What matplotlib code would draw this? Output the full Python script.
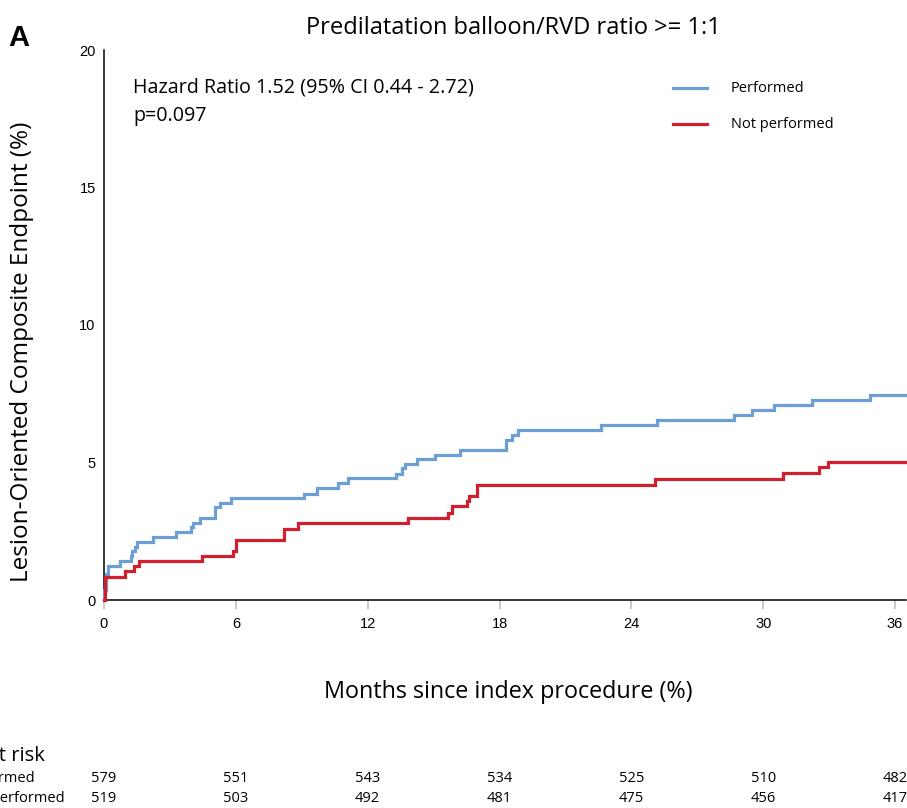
import matplotlib
matplotlib.use("Agg")
import matplotlib.pyplot as plt

# Kaplan-Meier cumulative incidence (%) of the lesion-oriented composite endpoint
months_performed = [0, 0.02, 0.08, 0.19, 0.73, 1.22, 1.28, 1.40, 1.52, 2.23,
                    3.29, 3.97, 4.05, 4.39, 5.03, 5.26, 5.79, 9.08, 9.69, 10.63,
                    11.10, 13.27, 13.57, 13.69, 14.25, 15.05, 16.19, 18.29, 18.56, 18.83,
                    22.61, 25.15, 28.69, 29.49, 30.50, 32.21, 34.88]
events_performed = [0, 0.35, 0.94, 1.25, 1.42, 1.60, 1.78, 1.94, 2.12, 2.30,
                    2.46, 2.64, 2.81, 3.00, 3.38, 3.54, 3.72, 3.87, 4.06, 4.24,
                    4.42, 4.60, 4.80, 4.94, 5.12, 5.29, 5.47, 5.81, 6.00, 6.18,
                    6.35, 6.54, 6.72, 6.90, 7.10, 7.27, 7.46]

months_not_performed = [0, 0.03, 0.95, 1.37, 1.60, 4.47, 5.86, 6.01, 8.21, 8.82,
                        13.84, 15.65, 15.84, 16.52, 16.62, 16.97, 25.09, 30.88, 32.52, 32.93]
events_not_performed = [0, 0.85, 1.04, 1.22, 1.43, 1.61, 1.79, 2.19, 2.60, 2.79,
                        3.00, 3.18, 3.41, 3.60, 3.80, 4.20, 4.40, 4.62, 4.82, 5.03]

follow_up_end = 36.5

# Numbers at risk
risk_months = [0, 6, 12, 18, 24, 30, 36]
risk_performed = [579, 551, 543, 534, 525, 510, 482]
risk_not_performed = [519, 503, 492, 481, 475, 456, 417]

group_labels = ["Performed", "Not performed"]
x_ticks = [0, 6, 12, 18, 24, 30, 36]
y_ticks = [0, 5, 10, 15, 20]

BLUE = "#6b9fd5"
RED = "#d0202e"

W, H = 907, 808
fig = plt.figure(figsize=(W / 100, H / 100), dpi=100)


def fx(x):
    return x / W


def fy(y):
    return 1 - y / H


ax = fig.add_axes([fx(104), fy(600), fx(906) - fx(104), fy(50) - fy(600)])

for t, v, c in [(months_performed, events_performed, BLUE),
                (months_not_performed, events_not_performed, RED)]:
    ax.step(list(t) + [follow_up_end], list(v) + [v[-1]], where="post",
            color=c, lw=2.3, solid_joinstyle="miter", clip_on=False, zorder=3)

ax.set_xlim(0, follow_up_end)
ax.set_ylim(0, 20)
ax.set_xticks(x_ticks)
ax.set_yticks(y_ticks)
ax.set_xticklabels([str(v) for v in x_ticks], fontfamily="Liberation Sans", fontsize=10.5)
ax.set_yticklabels([str(v) for v in y_ticks], fontfamily="Liberation Sans", fontsize=10.5)
ax.tick_params(axis="x", direction="out", length=6.5, width=1.3, color="#c4c4c4", pad=6)
ax.tick_params(axis="y", length=0, pad=6)
for s in ["top", "right"]:
    ax.spines[s].set_visible(False)
for s in ["left", "bottom"]:
    ax.spines[s].set_linewidth(1.1)
    ax.spines[s].set_color("black")

font = ["Open Sans", "DejaVu Sans"]

fig.text(fx(513), fy(28), "Predilatation balloon/RVD ratio >= 1:1", family=font,
         fontsize=17, ha="center", va="center")
fig.text(fx(8), fy(38), "A", family="Liberation Sans", fontweight="bold",
         fontsize=21, ha="left", va="center")
fig.text(fx(133), fy(88), "Hazard Ratio 1.52 (95% CI 0.44 - 2.72)", family=font,
         fontsize=14.2, ha="left", va="center")
fig.text(fx(133), fy(116), "p=0.097", family=font, fontsize=14.2, ha="left", va="center")

# Legend
for yy, c, lab in [(88, BLUE, group_labels[0]), (124, RED, group_labels[1])]:
    fig.add_artist(plt.Line2D([fx(673), fx(707)], [fy(yy), fy(yy)], color=c, lw=2.3))
    fig.text(fx(731), fy(yy), lab, family=font, fontsize=10.5, ha="left", va="center")

fig.text(fx(508), fy(692), "Months since index procedure (%)", family=font,
         fontsize=16.8, ha="center", va="center")
fig.text(fx(22), fy(352), "Lesion-Oriented Composite Endpoint (%)", family=font,
         fontsize=17.5, ha="center", va="center", rotation=90)

# Numbers-at-risk table below the plot
fig.text(fx(-14), fy(756), "At risk", family=font, fontsize=14.5, ha="left", va="center")
fig.text(fx(-38), fy(778), group_labels[0], family=font, fontsize=10.5, ha="left", va="center")
fig.text(fx(-38), fy(798), group_labels[1], family=font, fontsize=10.5, ha="left", va="center")
for m, a, b in zip(risk_months, risk_performed, risk_not_performed):
    xd = ax.transData.transform((m, 0))[0]
    xf = fig.transFigure.inverted().transform((xd, 0))[0]
    fig.text(xf, fy(778), str(a), family=font, fontsize=10.5, ha="center", va="center")
    fig.text(xf, fy(798), str(b), family=font, fontsize=10.5, ha="center", va="center")

fig.savefig("out.png", dpi=100)
